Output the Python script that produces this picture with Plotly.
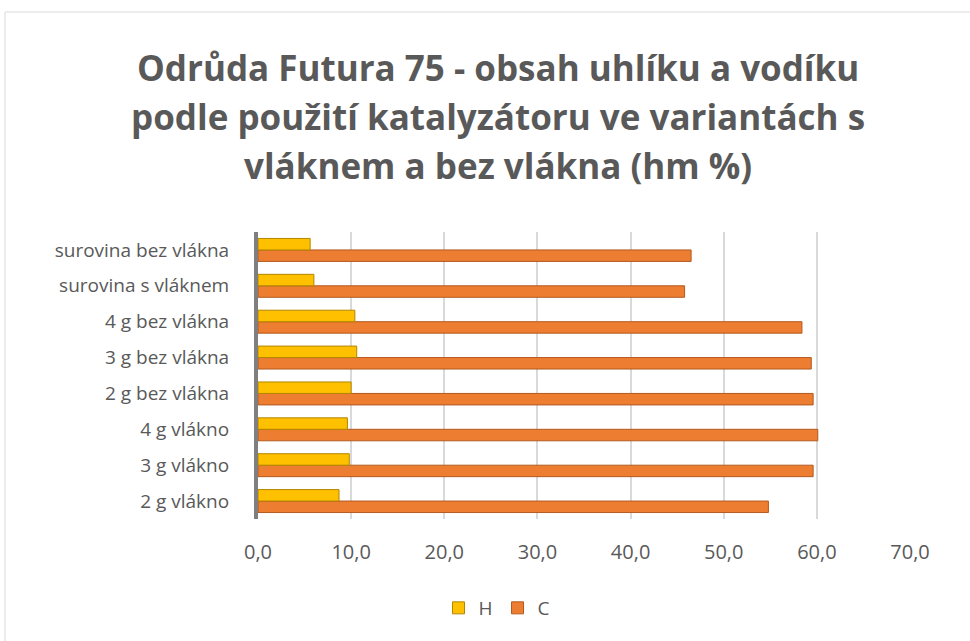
import plotly.graph_objects as go

categories = ["2 g vlákno", "3 g vlákno", "4 g vlákno", "2 g bez vlákna",
              "3 g bez vlákna", "4 g bez vlákna", "surovina s vláknem", "surovina bez vlákna"]
H_values = [8.7, 9.8, 9.6, 10.0, 10.6, 10.4, 6.0, 5.6]
C_values = [54.8, 59.6, 60.1, 59.6, 59.4, 58.4, 45.8, 46.5]
x_ticks = [0, 10, 20, 30, 40, 50, 60, 70]
x_tick_labels = ["0,0", "10,0", "20,0", "30,0", "40,0", "50,0", "60,0", "70,0"]
title_lines = ["Odrůda Futura 75 - obsah uhlíku a vodíku",
               "podle použití katalyzátoru ve variantách s",
               "vláknem a bez vlákna (hm %)"]

FONT = "Open Sans"
GREY = "#595959"

W, Hh = 970, 641
L, R, T, B = 258, 60, 232, 122
pw = W - L - R
ph = Hh - T - B

fig = go.Figure()
fig.add_trace(go.Bar(
    y=categories, x=C_values, name="C", orientation="h",
    marker=dict(color="#ED7D31", line=dict(color="#B35A1F", width=1)),
))
fig.add_trace(go.Bar(
    y=categories, x=H_values, name="H", orientation="h",
    marker=dict(color="#FFC000", line=dict(color="#B38600", width=1)),
))

def px_to_paper_x(px):
    return (px - L) / pw

def px_to_paper_y(py):
    return (Hh - B - py) / ph

fig.add_shape(type="rect", xref="paper", yref="paper",
              x0=px_to_paper_x(5), x1=px_to_paper_x(975),
              y0=px_to_paper_y(650), y1=px_to_paper_y(12),
              line=dict(color="#D9D9D9", width=1), layer="below")

title_y = [67, 117, 166]
for line, yc in zip(title_lines, title_y):
    fig.add_annotation(text=line, xref="paper", yref="paper",
                       x=px_to_paper_x(498), y=px_to_paper_y(yc),
                       xanchor="center", yanchor="middle", showarrow=False,
                       font=dict(family=FONT, size=35, color=GREY, weight="bold"))

fig.update_layout(
    width=W, height=Hh,
    margin=dict(l=L, r=R, t=T, b=B),
    paper_bgcolor="white", plot_bgcolor="white",
    barmode="group", bargap=0.36, bargroupgap=0,
    font=dict(family=FONT, color=GREY),
    xaxis=dict(range=[0, 70], tickvals=x_ticks, ticktext=x_tick_labels,
               showgrid=True, gridcolor="#D9D9D9", gridwidth=2,
               zeroline=False, showline=False, ticks="",
               ticklabelstandoff=19,
               tickfont=dict(family=FONT, size=20, color=GREY)),
    yaxis=dict(categoryorder="array", categoryarray=categories,
               range=[-0.5, 7.5],
               showgrid=False, zeroline=False, showline=True,
               linecolor="#7F7F7F", linewidth=4, ticks="",
               ticklabelstandoff=21,
               tickfont=dict(family=FONT, size=19, color=GREY)),
    legend=dict(orientation="h", traceorder="reversed",
                x=px_to_paper_x(497), xanchor="center",
                y=px_to_paper_y(608), yanchor="middle",
                font=dict(family=FONT, size=19, color=GREY),
                itemwidth=30),
    showlegend=True,
)

fig.write_html("out.html", config={"displayModeBar": False},
               post_script="document.body.style.margin='0';")
